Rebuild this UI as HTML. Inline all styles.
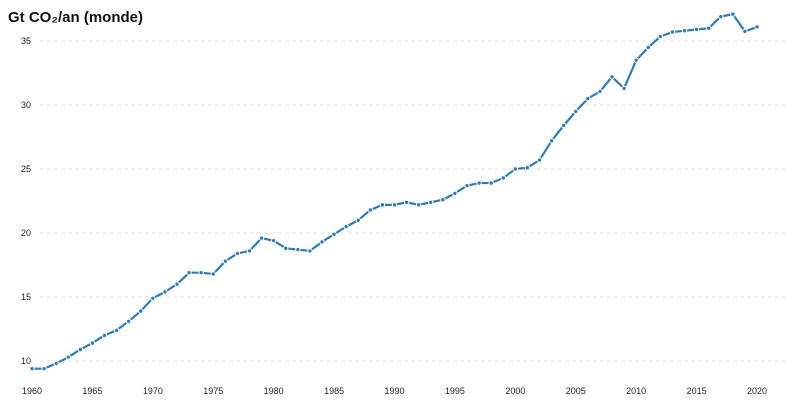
<!DOCTYPE html>
<html><head><meta charset="utf-8"><style>
body{margin:0;background:#fff;}
svg{display:block;font-family:"Liberation Sans",sans-serif;}
</style></head><body>
<svg width="800" height="402">
<text x="8" y="22" font-size="15" font-weight="bold" fill="#111">Gt CO₂/an (monde)</text>
<g id="grid"></g><g id="xt"></g><g id="line"></g>
</svg>
<script>
const years=[];for(let y=1960;y<=2020;y++)years.push(y);
const values=[9.4,9.4,9.8,10.3,10.9,11.4,12.0,12.4,13.1,13.9,14.9,15.4,16.0,16.9,16.9,16.8,17.8,18.4,18.6,19.6,19.4,18.8,18.7,18.6,19.3,19.9,20.5,21.0,21.8,22.2,22.2,22.4,22.2,22.4,22.6,23.1,23.7,23.9,23.9,24.3,25.0,25.1,25.7,27.2,28.4,29.5,30.5,31.05,32.2,31.3,33.5,34.5,35.35,35.7,35.8,35.9,36.0,36.9,37.1,35.75,36.1];
const yTicks=[10,15,20,25,30,35];
const xTicks=[1960,1965,1970,1975,1980,1985,1990,1995,2000,2005,2010,2015,2020];
const NS="http://www.w3.org/2000/svg";
const X=y=>32+(y-1960)*(757-32)/60;
const Y=v=>361-(v-10)*12.8;
function mk(t,a,p){const e=document.createElementNS(NS,t);for(const k in a)e.setAttribute(k,a[k]);p.appendChild(e);return e;}
const g=document.getElementById('grid');
yTicks.forEach(v=>{
 const l=mk('line',{x1:40,x2:790,y1:Y(v),y2:Y(v),stroke:'#e2e2e2','stroke-dasharray':'4,3'},g);
 
 
 const t=mk('text',{x:26,y:Y(v)+3,'font-size':9,fill:'#222','text-anchor':'middle'},g);
 t.textContent=v;
 
 
});
const xt=document.getElementById('xt');
xTicks.forEach(v=>{
 const t=mk('text',{x:X(v),y:394,'font-size':9,fill:'#222','text-anchor':'middle'},xt);
 t.textContent=v;
 
 
});
const lg=document.getElementById('line');
const p=mk('polyline',{points:years.map((y,i)=>X(y)+','+Y(values[i])).join(' '),fill:'none',stroke:'#2f7bb6','stroke-width':2.2},lg);


years.forEach((y,i)=>{
 const c=mk('circle',{cx:X(y),cy:Y(values[i]),r:2.2,fill:'#2f7bb6',stroke:'#fff','stroke-width':1},lg);
 
 
});
</script>
</body></html>
